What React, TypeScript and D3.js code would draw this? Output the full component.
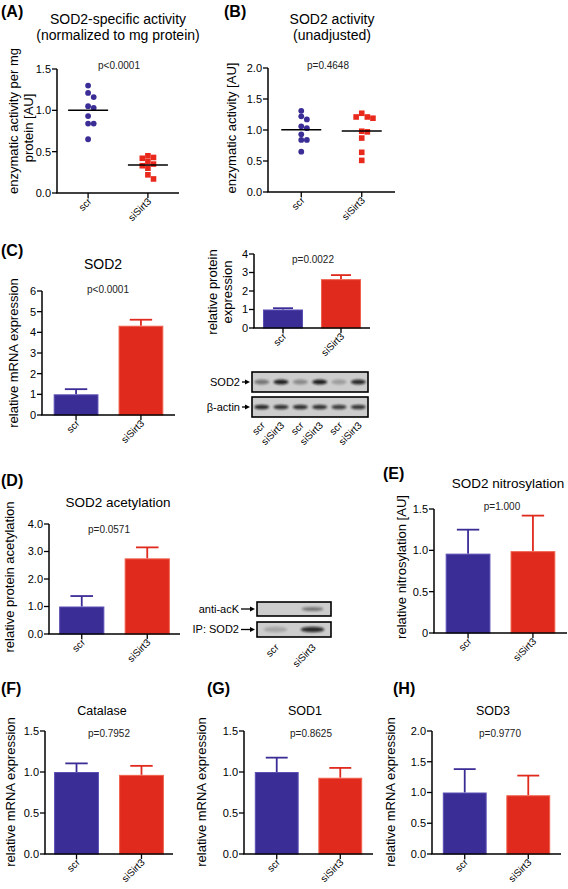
import React from "react";
import * as d3 from "d3";

const FONT = "'Liberation Sans', Arial, Helvetica, sans-serif";
const BLUE = "#3b2d96";
const BLUE_EDGE = "#5a4fb3";
const RED = "#df2a1d";
const RED_EDGE = "#f0604c";

const groups = ["scr", "siSirt3"];

// (A) SOD2-specific activity (normalized to mg protein)
const normActScr = [1.30, 1.21, 1.16, 1.05, 1.03, 0.93, 0.84, 0.84, 0.65];
const normActSi = [0.45, 0.43, 0.42, 0.38, 0.35, 0.33, 0.30, 0.22, 0.17];
const ticksA = [0, 0.5, 1.0, 1.5];
// (B) SOD2 activity (unadjusted)
const rawActScr = [1.31, 1.22, 1.17, 1.06, 1.03, 0.93, 0.84, 0.84, 0.65];
const rawActSi = [1.27, 1.21, 1.21, 1.19, 0.98, 0.97, 0.87, 0.64, 0.51];
const ticksB = [0, 0.5, 1.0, 1.5, 2.0];
// (C) SOD2 mRNA
const sod2MrnaMean = [1.0, 4.32];
const sod2MrnaSem = [0.25, 0.29];
const ticksC1 = [0, 1, 2, 3, 4, 5, 6];
// (C) SOD2 protein
const sod2ProtMean = [1.0, 2.64];
const sod2ProtSem = [0.07, 0.22];
const ticksC2 = [0, 1, 2, 3, 4];
const blotLanesC = ["scr", "siSirt3", "scr", "siSirt3", "scr", "siSirt3"];
const sod2Band = [0.45, 0.9, 0.35, 0.92, 0.25, 0.85];
const actinBand = [0.85, 0.8, 0.82, 0.8, 0.75, 0.78];
// (D) SOD2 acetylation
const acetylMean = [1.0, 2.75];
const acetylSem = [0.38, 0.4];
const ticksD = [0, 1, 2, 3, 4];
const blotLanesD = ["scr", "siSirt3"];
const acKBand = [0.0, 0.45];
const ipSod2Band = [0.2, 0.85];
// (E) SOD2 nitrosylation
const nitroMean = [0.96, 0.99];
const nitroSem = [0.29, 0.43];
const ticksE = [0, 0.5, 1.0, 1.5];
// (F) Catalase
const catMean = [1.0, 0.965];
const catSem = [0.105, 0.11];
const ticksF = [0, 0.5, 1.0, 1.5];
// (G) SOD1
const sod1Mean = [1.0, 0.93];
const sod1Sem = [0.175, 0.12];
const ticksG = [0, 0.5, 1.0, 1.5];
// (H) SOD3
const sod3Mean = [1.0, 0.955];
const sod3Sem = [0.38, 0.32];
const ticksH = [0, 0.5, 1.0, 1.5, 2.0];

const f1 = d3.format(".1f");
const fInt = d3.format("d");
const fE = (v: number) => (v === 0 ? "0" : f1(v));

type AxCfg = {
  x0: number; x1: number; yTop: number; yBot: number;
  ticks: number[]; fmt: (v: number) => string;
  y: d3.ScaleLinear<number, number>;
  centers: number[];
};

function Axes({ x0, x1, yTop, yBot, ticks, fmt, y, centers }: AxCfg) {
  return (
    <g>
      <line x1={x0} x2={x0} y1={yTop} y2={yBot} stroke="#000" strokeWidth={1.5} />
      <line x1={x0 - 0.75} x2={x1} y1={yBot} y2={yBot} stroke="#000" strokeWidth={1.5} />
      {ticks.map((t) => (
        <g key={t}>
          <line x1={x0 - 5} x2={x0} y1={y(t)} y2={y(t)} stroke="#000" strokeWidth={1.3} />
          <text x={x0 - 6} y={y(t)} dy="0.36em" textAnchor="end" fontSize={11}>{fmt(t)}</text>
        </g>
      ))}
      {centers.map((cx, i) => (
        <g key={i}>
          <line x1={cx} x2={cx} y1={yBot} y2={yBot + 5} stroke="#000" strokeWidth={1.3} />
          <text transform={`translate(${cx + 4},${yBot + 9}) rotate(-45)`} textAnchor="end" fontSize={10}>{groups[i]}</text>
        </g>
      ))}
    </g>
  );
}

type Deco = {
  title?: string[]; titleX?: number; titleY?: number[]; titleSize?: number;
  pText: string; pX: number; pY: number;
  yLabel: string[]; yLabelX: number[]; yLabelY: number[];
  letter?: string; letterX?: number; letterY?: number;
};

function Decor(c: Deco) {
  return (
    <g>
      {c.letter && (
        <text x={c.letterX} y={c.letterY} fontSize={16} fontWeight="bold">{c.letter}</text>
      )}
      {c.title && c.title.map((t, i) => (
        <text key={i} x={c.titleX} y={c.titleY![i]} textAnchor="middle" fontSize={c.titleSize ?? 14}>{t}</text>
      ))}
      <text x={c.pX} y={c.pY} textAnchor="middle" fontSize={10} fill="#222">{c.pText}</text>
      {c.yLabel.map((t, i) => (
        <text key={i} transform={`translate(${c.yLabelX[i]},${c.yLabelY[i]}) rotate(-90)`} textAnchor="middle" fontSize={13}>{t}</text>
      ))}
    </g>
  );
}

type BarCfg = Deco & {
  x0: number; x1: number; yTop: number; yBot: number; max: number;
  ticks: number[]; fmt: (v: number) => string; pad?: number;
  means: number[]; errs: number[];
};

function BarPanel(c: BarCfg) {
  const y = d3.scaleLinear().domain([0, c.max]).range([c.yBot, c.yTop]);
  const x = d3.scaleBand<string>().domain(groups).range([c.x0, c.x1]).paddingInner(0.31).paddingOuter(c.pad ?? 0.17);
  const bw = x.bandwidth();
  const centers = groups.map((g) => (x(g) as number) + bw / 2);
  return (
    <g>
      {groups.map((g, i) => {
        const cx = centers[i];
        const top = y(c.means[i]);
        const et = y(c.means[i] + c.errs[i]);
        const col = i === 0 ? BLUE : RED;
        const edge = i === 0 ? BLUE_EDGE : RED_EDGE;
        return (
          <g key={g}>
            <line x1={cx} x2={cx} y1={top} y2={et} stroke={col} strokeWidth={1.8} />
            <line x1={cx - bw * 0.25} x2={cx + bw * 0.25} y1={et} y2={et} stroke={col} strokeWidth={1.8} />
            <rect x={(x(g) as number) + 0.5} y={top + 0.5} width={bw - 1} height={c.yBot - top - 0.5} fill={col} stroke={edge} strokeWidth={1} />
          </g>
        );
      })}
      <Axes x0={c.x0} x1={c.x1} yTop={c.yTop} yBot={c.yBot} ticks={c.ticks} fmt={c.fmt} y={y} centers={centers} />
      <Decor {...c} />
    </g>
  );
}

function swarm(ys: number[], d: number): number[] {
  const order = ys.map((_, i) => i).sort((a, b) => ys[a] - ys[b]);
  const placed: { x: number; y: number }[] = [];
  const off = new Array(ys.length).fill(0);
  for (const i of order) {
    for (let k = 0; k < 40; k++) {
      const m = Math.ceil(k / 2);
      const cand = (k % 2 === 1 ? 1 : -1) * m * (d / 2);
      const hit = placed.some((p) => Math.hypot(cand - p.x, ys[i] - p.y) < d * 0.92);
      if (!hit) {
        off[i] = cand;
        placed.push({ x: cand, y: ys[i] });
        break;
      }
    }
  }
  return off;
}

type ScatCfg = Deco & {
  x0: number; x1: number; yTop: number; yBot: number; max: number;
  ticks: number[]; fmt: (v: number) => string; pad: number;
  a: number[]; b: number[];
};

function ScatterPanel(c: ScatCfg) {
  const y = d3.scaleLinear().domain([0, c.max]).range([c.yBot, c.yTop]);
  const x = d3.scalePoint<string>().domain(groups).range([c.x0, c.x1]).padding(c.pad);
  const centers = groups.map((g) => x(g) as number);
  const sets = [c.a, c.b];
  return (
    <g>
      {sets.map((vals, gi) => {
        const ys = vals.map((v) => y(v));
        const offs = swarm(ys, 5.6);
        const cx = centers[gi];
        const mean = d3.mean(vals) as number;
        return (
          <g key={gi}>
            {vals.map((v, i) =>
              gi === 0 ? (
                <circle key={i} cx={cx + offs[i]} cy={ys[i]} r={2.9} fill={BLUE} />
              ) : (
                <rect key={i} x={cx + offs[i] - 2.8} y={ys[i] - 2.8} width={5.6} height={5.6} fill="#e8291c" />
              )
            )}
            <line x1={cx - 20} x2={cx + 20} y1={y(mean)} y2={y(mean)} stroke="#000" strokeWidth={1.5} />
          </g>
        );
      })}
      <Axes x0={c.x0} x1={c.x1} yTop={c.yTop} yBot={c.yBot} ticks={c.ticks} fmt={c.fmt} y={y} centers={centers} />
      <Decor {...c} />
    </g>
  );
}

type BlotRow = { label: string; bands: number[]; y0: number; h: number; rx: number; ry: number };

function Blot({ x0, x1, rows, lanes, labelEnd, laneLabelY }: { x0: number; x1: number; rows: BlotRow[]; lanes: string[]; labelEnd: number; laneLabelY: number }) {
  const lx = d3.scaleBand<number>().domain(d3.range(lanes.length)).range([x0, x1]);
  const lc = (i: number) => (lx(i) as number) + lx.bandwidth() / 2;
  return (
    <g>
      {rows.map((r, ri) => {
        const cy = r.y0 + r.h / 2;
        return (
          <g key={ri}>
            <rect x={x0} y={r.y0} width={x1 - x0} height={r.h} fill="#cdcdcd" stroke="#000" strokeWidth={1.6} />
            {r.bands.map((b, i) => (
              <ellipse key={i} cx={lc(i)} cy={cy} rx={r.rx} ry={r.ry} fill="#111" opacity={b} filter="url(#blur)" />
            ))}
            <text x={labelEnd} y={cy} dy="0.36em" textAnchor="end" fontSize={11}>{r.label}</text>
            <line x1={labelEnd + 2} x2={x0 - 6} y1={cy} y2={cy} stroke="#000" strokeWidth={1.3} />
            <path d={`M${x0 - 2},${cy} L${x0 - 7},${cy - 2.6} L${x0 - 7},${cy + 2.6} Z`} fill="#000" />
          </g>
        );
      })}
      {lanes.map((l, i) => (
        <text key={i} transform={`translate(${lc(i) + 4},${laneLabelY}) rotate(-45)`} textAnchor="end" fontSize={10}>{l}</text>
      ))}
    </g>
  );
}

export default function App() {
  return (
    <svg width={568} height={889} style={{ position: "absolute", left: 0, top: 0, background: "#fff" }} fontFamily={FONT}>
      <defs>
        <filter id="blur" x="-50%" y="-100%" width="200%" height="300%">
          <feGaussianBlur stdDeviation={1.3} />
        </filter>
      </defs>
      <ScatterPanel
        x0={57} x1={179} yTop={69} yBot={193} max={1.5} ticks={ticksA} fmt={f1} pad={0.52}
        a={normActScr} b={normActSi}
        letter="(A)" letterX={1} letterY={17}
        title={["SOD2-specific activity", "(normalized to mg protein)"]} titleX={118} titleY={[24, 40]}
        pText="p<0.0001" pX={119} pY={68.5}
        yLabel={["enzymatic activity per mg", "protein [AU]"]} yLabelX={[18, 33]} yLabelY={[121, 128]}
      />
      <ScatterPanel
        x0={268} x1={395} yTop={68} yBot={192} max={2.0} ticks={ticksB} fmt={f1} pad={0.55}
        a={rawActScr} b={rawActSi}
        letter="(B)" letterX={224} letterY={17}
        title={["SOD2 activity", "(unadjusted)"]} titleX={332} titleY={[24, 40]}
        pText="p=0.4648" pX={328} pY={68.5}
        yLabel={["enzymatic activity [AU]"]} yLabelX={[236]} yLabelY={[128]}
      />
      <BarPanel
        x0={42} x1={175} yTop={291} yBot={415} max={6} ticks={ticksC1} fmt={fInt}
        means={sod2MrnaMean} errs={sod2MrnaSem} pad={0.18}
        letter="(C)" letterX={1} letterY={256}
        title={["SOD2"]} titleX={103} titleY={[269]}
        pText="p<0.0001" pX={108} pY={292.5}
        yLabel={["relative mRNA expression"]} yLabelX={[18]} yLabelY={[353]}
      />
      <BarPanel
        x0={254} x1={370} yTop={254} yBot={328} max={4} ticks={ticksC2} fmt={fInt}
        means={sod2ProtMean} errs={sod2ProtSem} pad={0.155}
        pText="p=0.0022" pX={313} pY={262.5}
        yLabel={["relative protein", "expression"]} yLabelX={[217, 232]} yLabelY={[292, 292]}
      />
      <Blot
        x0={252} x1={368} lanes={blotLanesC} labelEnd={240} laneLabelY={426}
        rows={[
          { label: "SOD2", bands: sod2Band, y0: 372, h: 20, rx: 7.5, ry: 2.6 },
          { label: "β-actin", bands: actinBand, y0: 397, h: 20, rx: 7.5, ry: 2.3 },
        ]}
      />
      <BarPanel
        x0={49} x1={180} yTop={524} yBot={634} max={4} ticks={ticksD} fmt={f1}
        means={acetylMean} errs={acetylSem} pad={0.155}
        letter="(D)" letterX={1} letterY={486}
        title={["SOD2 acetylation"]} titleX={118} titleY={[507]} titleSize={13.5}
        pText="p=0.0571" pX={109} pY={532.5}
        yLabel={["relative protein acetylation"]} yLabelX={[14]} yLabelY={[577]}
      />
      <Blot
        x0={257} x1={331} lanes={blotLanesD} labelEnd={239} laneLabelY={648}
        rows={[
          { label: "anti-acK", bands: acKBand, y0: 602, h: 14, rx: 11, ry: 2 },
          { label: "IP: SOD2", bands: ipSod2Band, y0: 622, h: 15, rx: 12, ry: 2.8 },
        ]}
      />
      <BarPanel
        x0={434} x1={567} yTop={509} yBot={633} max={1.5} ticks={ticksE} fmt={fE}
        means={nitroMean} errs={nitroSem} pad={0.18}
        letter="(E)" letterX={383} letterY={479}
        title={["SOD2 nitrosylation"]} titleX={508} titleY={[488]} titleSize={13.5}
        pText="p=1.000" pX={502} pY={509.5}
        yLabel={["relative nitrosylation [AU]"]} yLabelX={[406]} yLabelY={[567]}
      />
      <BarPanel
        x0={45} x1={173} yTop={731} yBot={854} max={1.5} ticks={ticksF} fmt={f1}
        means={catMean} errs={catSem} pad={0.14}
        letter="(F)" letterX={1} letterY={694}
        title={["Catalase"]} titleX={102} titleY={[715]} titleSize={12.5}
        pText="p=0.7952" pX={109} pY={736.5}
        yLabel={["relative mRNA expression"]} yLabelX={[15]} yLabelY={[792]}
      />
      <BarPanel
        x0={244} x1={373} yTop={731} yBot={854} max={1.5} ticks={ticksG} fmt={f1}
        means={sod1Mean} errs={sod1Sem} pad={0.17}
        letter="(G)" letterX={207} letterY={694}
        title={["SOD1"]} titleX={305} titleY={[715]} titleSize={12.5}
        pText="p=0.8625" pX={311} pY={736.5}
        yLabel={["relative mRNA expression"]} yLabelX={[206]} yLabelY={[792]}
      />
      <BarPanel
        x0={432} x1={561} yTop={731} yBot={854} max={2.0} ticks={ticksH} fmt={f1}
        means={sod3Mean} errs={sod3Sem} pad={0.17}
        letter="(H)" letterX={393} letterY={694}
        title={["SOD3"]} titleX={493} titleY={[715]} titleSize={12.5}
        pText="p=0.9770" pX={500} pY={736.5}
        yLabel={["relative mRNA expression"]} yLabelX={[395]} yLabelY={[792]}
      />
    </svg>
  );
}
